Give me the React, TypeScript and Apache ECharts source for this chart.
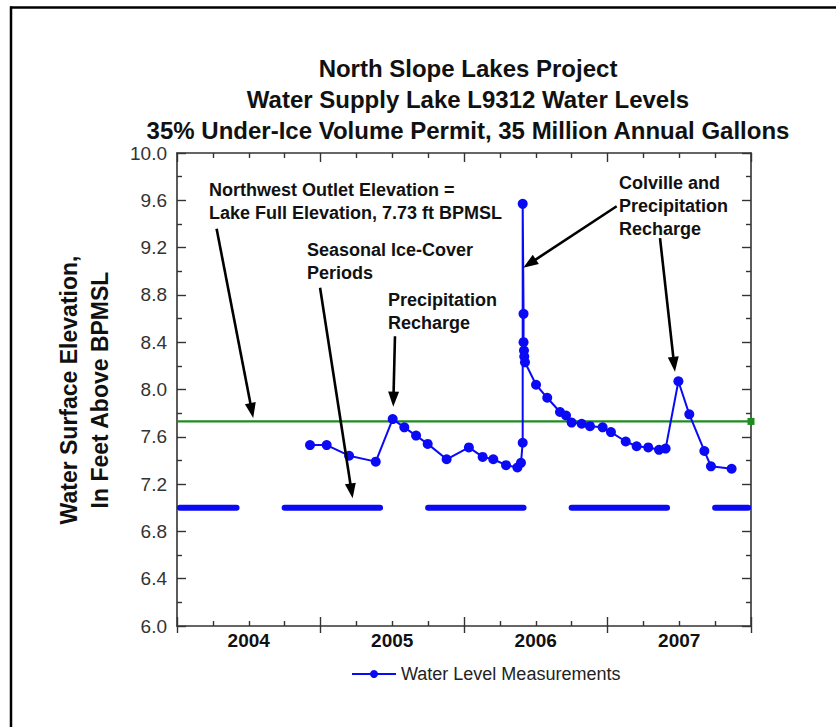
import React, { useEffect, useRef } from "react";
import * as echarts from "echarts";

// ---- Data ----
const yearLabels = ["2004", "2005", "2006", "2007"];

// decimal year of each measurement
const measurementDates = [
  2004.927, 2005.043, 2005.199, 2005.385, 2005.503, 2005.584, 2005.666, 2005.747,
  2005.879, 2006.034, 2006.13, 2006.204, 2006.293, 2006.372, 2006.397, 2006.409,
  2006.409, 2006.415, 2006.415, 2006.418, 2006.42, 2006.425, 2006.502, 2006.58,
  2006.669, 2006.711, 2006.75, 2006.82, 2006.878, 2006.966, 2007.024, 2007.127,
  2007.203, 2007.284, 2007.359, 2007.405, 2007.494, 2007.57, 2007.675, 2007.721,
  2007.865,
];
// water surface elevation, ft BPMSL
const measurementLevels = [
  7.53, 7.53, 7.44, 7.39, 7.75, 7.68, 7.61, 7.54,
  7.41, 7.51, 7.43, 7.41, 7.36, 7.34, 7.38, 7.55,
  9.57, 8.64, 8.4, 8.33, 8.28, 8.23, 8.04, 7.93,
  7.81, 7.78, 7.72, 7.71, 7.69, 7.68, 7.64, 7.56,
  7.52, 7.51, 7.49, 7.5, 8.07, 7.79, 7.48, 7.35,
  7.33,
];

const outletElevation = 7.73;
const iceCoverLevel = 7.0;
const iceCoverStarts = [2004.02, 2004.75, 2005.75, 2006.75, 2007.75];
const iceCoverEnds = [2004.415, 2005.415, 2006.415, 2007.415, 2007.98];

const xMin = 2004;
const xMax = 2008;
const yMin = 6.0;
const yMax = 10.0;
const yStep = 0.4;

// annotation arrows in data coordinates: [tailX, tailY, tipX, tipY]
const arrowTails = [
  [2004.276, 9.36],
  [2004.997, 8.86],
  [2005.519, 8.45],
  [2007.064, 9.55],
  [2007.366, 9.28],
];
const arrowTips = [
  [2004.531, 7.76],
  [2005.224, 7.08],
  [2005.507, 7.855],
  [2006.413, 9.03],
  [2007.47, 8.15],
];

const FONT = "'Liberation Sans', Arial, Helvetica, sans-serif";
const BLUE = "#0a0af5";
const GREEN = "#1e8c1e";
const AXIS = "#333333";

export default function App() {
  const ref = useRef<HTMLDivElement>(null);

  useEffect(() => {
    document.body.style.margin = "0";
    if (!ref.current) return;
    const chart = echarts.init(ref.current, null, { renderer: "svg" });

    const waterData = measurementDates.map((d, i) => [d, measurementLevels[i]]);
    const iceData: any[] = [];
    iceCoverStarts.forEach((s, i) => {
      iceData.push([s, iceCoverLevel]);
      iceData.push([iceCoverEnds[i], iceCoverLevel]);
      if (i < iceCoverStarts.length - 1) {
        iceData.push([(iceCoverEnds[i] + iceCoverStarts[i + 1]) / 2, null]);
      }
    });

    const valueX = (position: string, show: boolean) => ({
      type: "value",
      position,
      min: xMin,
      max: xMax,
      interval: 1,
      axisLine: { show, lineStyle: { color: AXIS, width: 1.6 } },
      axisTick: { show: true, inside: true, length: 9, lineStyle: { color: AXIS, width: 1.4 } },
      minorTick: { show: true, splitNumber: 4, length: 5, lineStyle: { color: AXIS, width: 1.4 } },
      axisLabel: { show: false },
      splitLine: { show: false },
      minorSplitLine: { show: false },
    });

    const valueY = (position: string, showLabel: boolean) => ({
      type: "value",
      position,
      min: yMin,
      max: yMax,
      interval: yStep,
      axisLine: { show: true, lineStyle: { color: AXIS, width: 1.6 } },
      axisTick: { show: true, inside: true, length: 9, lineStyle: { color: AXIS, width: 1.4 } },
      minorTick: { show: true, splitNumber: 2, length: 5, lineStyle: { color: AXIS, width: 1.4 } },
      axisLabel: {
        show: showLabel,
        formatter: (v: number) => v.toFixed(1),
        fontFamily: FONT,
        fontSize: 19,
        color: "#333",
        margin: 10,
      },
      splitLine: { show: false },
      minorSplitLine: { show: false },
    });

    chart.setOption({
      animation: false,
      backgroundColor: "#ffffff",
      grid: { left: 177, top: 153, right: 85, bottom: 101, containLabel: false },
      legend: {
        data: ["Water Level Measurements"],
        left: 351,
        top: 665,
        padding: 0,
        itemWidth: 44,
        itemHeight: 10,
        itemGap: 5,
        textStyle: { fontFamily: FONT, fontSize: 18, color: "#222" },
      },
      xAxis: [
        valueX("bottom", true),
        {
          type: "category",
          position: "bottom",
          data: yearLabels,
          boundaryGap: true,
          axisLine: { show: false },
          axisTick: { show: true, inside: false, length: 7, lineStyle: { color: AXIS, width: 1.4 } },
          axisLabel: {
            fontFamily: FONT,
            fontSize: 19,
            fontWeight: "bold",
            color: "#111",
            margin: 5,
          },
          splitLine: { show: false },
        },
        valueX("top", true),
      ],
      yAxis: [valueY("left", true), valueY("right", false)],
      series: [
        {
          name: "Ice Cover",
          type: "line",
          xAxisIndex: 0,
          yAxisIndex: 0,
          data: iceData,
          symbol: "none",
          connectNulls: false,
          lineStyle: { color: BLUE, width: 6, cap: "round" },
          z: 2,
        },
        {
          name: "Outlet Elevation",
          type: "line",
          xAxisIndex: 0,
          yAxisIndex: 0,
          data: [
            { value: [xMin, outletElevation], symbol: "none" },
            { value: [xMax, outletElevation], symbol: "rect", symbolSize: 7 },
          ],
          itemStyle: { color: GREEN },
          lineStyle: { color: GREEN, width: 2.2 },
          z: 3,
        },
        {
          name: "Water Level Measurements",
          type: "line",
          xAxisIndex: 0,
          yAxisIndex: 0,
          data: waterData,
          symbol: "circle",
          symbolSize: 10,
          itemStyle: { color: BLUE },
          lineStyle: { color: BLUE, width: 2 },
          z: 4,
        },
      ],
    });

    // ---- graphics (title, axis name, annotations, arrows, frame) ----
    const graphics: any[] = [];
    const boldText = (text: string, x: number, y: number, size: number, lh: number, extra: any = {}) => ({
      type: "text",
      x,
      y,
      style: {
        text,
        fill: "#111",
        fontFamily: FONT,
        fontWeight: "bold",
        fontSize: size,
        lineHeight: lh,
        align: extra.align || "left",
        verticalAlign: "top",
      },
    });

    graphics.push(
      boldText(
        "North Slope Lakes Project\nWater Supply Lake L9312 Water Levels\n35% Under-Ice Volume Permit, 35 Million Annual Gallons",
        468,
        52.5,
        24,
        31,
        { align: "center" }
      )
    );
    graphics.push({
      type: "text",
      x: 84.5,
      y: 390,
      rotation: Math.PI / 2,
      style: {
        text: "Water Surface Elevation,\nIn Feet Above BPMSL",
        fill: "#111",
        fontFamily: FONT,
        fontWeight: "bold",
        fontSize: 23,
        lineHeight: 31,
        align: "center",
        verticalAlign: "middle",
      },
    });
    graphics.push(boldText("Northwest Outlet Elevation =\nLake Full Elevation, 7.73 ft BPMSL", 209, 178.5, 18, 23));
    graphics.push(boldText("Seasonal Ice-Cover\nPeriods", 307, 238.5, 18, 23));
    graphics.push(boldText("Precipitation\nRecharge", 388, 288.5, 18, 23));
    graphics.push(boldText("Colville and\nPrecipitation\nRecharge", 619, 171, 18, 23));

    arrowTails.forEach((tail, i) => {
      const p0 = chart.convertToPixel({ xAxisIndex: 0, yAxisIndex: 0 }, tail) as number[];
      const p1 = chart.convertToPixel({ xAxisIndex: 0, yAxisIndex: 0 }, arrowTips[i]) as number[];
      const dx = p1[0] - p0[0];
      const dy = p1[1] - p0[1];
      const len = Math.sqrt(dx * dx + dy * dy);
      const ux = dx / len;
      const uy = dy / len;
      const L = 15;
      const W = 5.5;
      const bx = p1[0] - ux * L;
      const by = p1[1] - uy * L;
      graphics.push({
        type: "line",
        shape: { x1: p0[0], y1: p0[1], x2: bx + ux * 2, y2: by + uy * 2 },
        style: { stroke: "#000", lineWidth: 2.6 },
        z: 100,
      });
      graphics.push({
        type: "polygon",
        shape: {
          points: [
            [p1[0], p1[1]],
            [bx - uy * W, by + ux * W],
            [bx + uy * W, by - ux * W],
          ],
        },
        style: { fill: "#000" },
        z: 100,
      });
    });

    // outer frame (top and left edges)
    graphics.push({
      type: "line",
      shape: { x1: 10, y1: 7.5, x2: 836, y2: 7.5 },
      style: { stroke: "#000", lineWidth: 2.5 },
    });
    graphics.push({
      type: "line",
      shape: { x1: 11, y1: 6.5, x2: 11, y2: 727 },
      style: { stroke: "#000", lineWidth: 2.5 },
    });

    chart.setOption({ graphic: graphics });

    return () => {
      chart.dispose();
    };
  }, []);

  return <div ref={ref} style={{ width: 836, height: 727 }} />;
}
